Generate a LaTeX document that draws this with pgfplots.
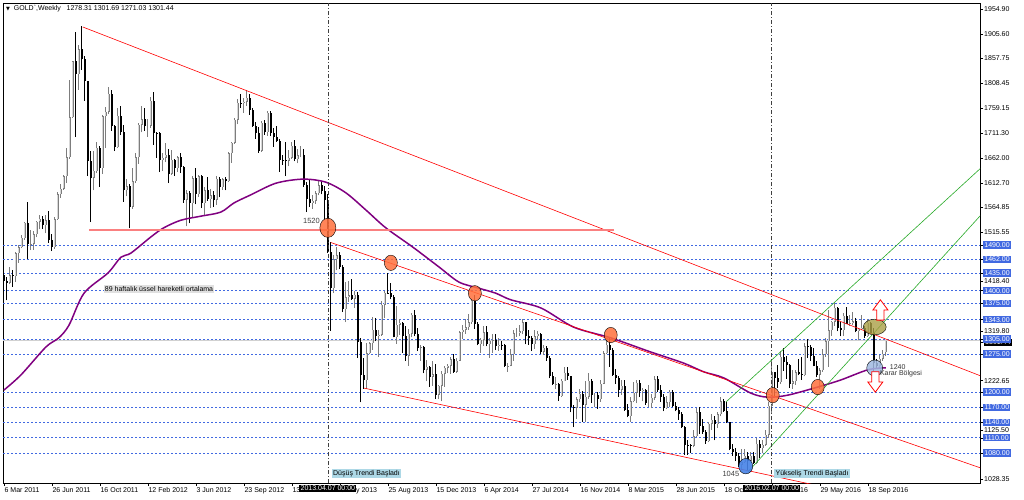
\documentclass[border=0pt]{standalone}
\usepackage{pgfplots}
\usepackage{pgfplotstable}
\pgfplotsset{compat=1.18}
\usepackage{fontspec}
\setmainfont{Liberation Sans}
\newfontfamily\dejavu{DejaVu Sans}
\setlength{\fboxsep}{1pt}
\definecolor{royal}{RGB}{65,105,225}
\definecolor{ema}{RGB}{128,0,128}
\definecolor{circ}{RGB}{255,112,60}
\definecolor{olivec}{RGB}{170,160,70}
\definecolor{lblue}{RGB}{160,185,225}
\definecolor{dblue}{RGB}{70,130,230}
\definecolor{boxblue}{RGB}{173,216,230}
\definecolor{salmonl}{RGB}{250,128,128}
\definecolor{greenl}{RGB}{40,170,40}
\definecolor{bullc}{RGB}{125,125,125}
\definecolor{bullin}{RGB}{215,215,215}

% weekly OHLC, bar index from 6 Mar 2011
\pgfplotstableread{
b o h l c
0 1430 1435 1392 1420
1 1420 1428 1381 1416
2 1416 1447 1414 1430
3 1430 1440 1408 1429
4 1429 1476 1418 1474
5 1474 1490 1455 1486
6 1486 1509 1484 1504
7 1504 1536 1500 1534
8 1534 1575 1462 1492
9 1492 1520 1480 1493
10 1493 1518 1481 1511
11 1511 1537 1505 1536
12 1536 1549 1521 1542
13 1542 1548 1522 1529
14 1529 1549 1513 1539
15 1539 1558 1495 1500
16 1500 1511 1478 1486
17 1486 1545 1483 1541
18 1541 1594 1540 1590
19 1590 1610 1583 1601
20 1601 1628 1599 1626
21 1626 1681 1612 1663
22 1663 1815 1660 1742
23 1742 1852 1741 1852
24 1852 1911 1703 1827
25 1827 1884 1796 1876
26 1876 1921 1835 1857
27 1857 1862 1775 1814
28 1814 1814 1626 1656
29 1656 1676 1535 1623
30 1623 1676 1598 1636
31 1636 1694 1633 1682
32 1682 1686 1605 1642
33 1642 1747 1631 1744
34 1744 1763 1681 1753
35 1753 1802 1748 1788
36 1788 1795 1715 1724
37 1724 1726 1675 1683
38 1683 1761 1682 1745
39 1745 1764 1707 1713
40 1713 1726 1575 1598
41 1598 1621 1586 1606
42 1606 1611 1523 1566
43 1566 1642 1562 1616
44 1616 1671 1612 1663
45 1663 1730 1650 1727
46 1727 1764 1712 1738
47 1738 1760 1715 1725
48 1725 1738 1704 1725
49 1725 1782 1721 1774
50 1774 1792 1688 1711
51 1711 1712 1662 1710
52 1710 1712 1634 1657
53 1657 1671 1636 1662
54 1662 1691 1653 1668
55 1668 1680 1612 1631
56 1631 1677 1628 1658
57 1658 1660 1627 1642
58 1642 1665 1634 1663
59 1663 1672 1632 1643
60 1643 1645 1573 1579
61 1579 1598 1527 1592
62 1592 1596 1533 1572
63 1572 1627 1545 1622
64 1622 1642 1570 1590
65 1590 1628 1585 1626
66 1626 1628 1563 1572
67 1572 1605 1547 1598
68 1598 1625 1577 1580
69 1580 1600 1564 1588
70 1588 1597 1565 1579
71 1579 1627 1569 1621
72 1621 1625 1584 1604
73 1604 1623 1599 1620
74 1620 1625 1598 1616
75 1616 1674 1614 1671
76 1671 1693 1652 1692
77 1692 1741 1690 1737
78 1737 1778 1728 1771
79 1771 1787 1761 1770
80 1770 1779 1751 1773
81 1773 1796 1765 1780
82 1780 1788 1747 1757
83 1757 1761 1723 1724
84 1724 1732 1700 1711
85 1711 1722 1672 1676
86 1676 1734 1674 1731
87 1731 1737 1708 1713
88 1713 1755 1706 1751
89 1751 1754 1705 1711
90 1711 1721 1684 1704
91 1704 1724 1694 1696
92 1696 1699 1635 1658
93 1658 1667 1648 1657
94 1657 1693 1626 1656
95 1656 1678 1645 1662
96 1662 1694 1660 1686
97 1686 1697 1655 1659
98 1659 1680 1651 1667
99 1667 1685 1663 1667
100 1667 1680 1604 1609
101 1609 1615 1555 1581
102 1581 1619 1565 1572
103 1572 1588 1562 1577
104 1577 1596 1571 1592
105 1592 1617 1588 1608
106 1608 1616 1590 1596
107 1596 1606 1539 1579
108 1579 1590 1475 1476
109 1476 1497 1321 1405
110 1405 1470 1395 1462
111 1462 1487 1440 1470
112 1470 1477 1442 1447
113 1447 1450 1358 1364
114 1364 1418 1338 1387
115 1387 1419 1378 1391
116 1391 1424 1382 1384
117 1384 1399 1366 1392
118 1392 1398 1268 1298
119 1298 1306 1180 1234
120 1234 1267 1207 1223
121 1223 1297 1206 1277
122 1277 1298 1275 1296
123 1296 1348 1284 1323
124 1323 1347 1300 1310
125 1310 1323 1270 1313
126 1313 1380 1311 1372
127 1372 1400 1346 1396
128 1396 1434 1394 1395
129 1395 1415 1383 1387
130 1387 1391 1308 1308
131 1308 1369 1295 1333
132 1333 1345 1313 1337
133 1337 1338 1277 1310
134 1310 1331 1262 1272
135 1272 1325 1252 1315
136 1315 1356 1308 1352
137 1352 1362 1310 1314
138 1314 1327 1281 1287
139 1287 1293 1262 1288
140 1288 1290 1237 1244
141 1244 1264 1221 1250
142 1250 1252 1211 1230
143 1230 1262 1213 1235
144 1235 1256 1186 1195
145 1195 1215 1186 1213
146 1213 1241 1182 1236
147 1236 1251 1211 1248
148 1248 1256 1237 1252
149 1252 1270 1236 1265
150 1265 1276 1238 1240
151 1240 1268 1238 1262
152 1262 1320 1262 1318
153 1318 1332 1305 1323
154 1323 1345 1315 1328
155 1328 1355 1323 1338
156 1338 1384 1335 1380
157 1380 1392 1325 1334
158 1334 1338 1292 1294
159 1294 1307 1277 1303
160 1303 1331 1291 1318
161 1318 1331 1290 1294
162 1294 1306 1268 1301
163 1301 1315 1278 1302
164 1302 1315 1283 1290
165 1290 1306 1282 1293
166 1293 1300 1284 1292
167 1292 1294 1250 1251
168 1251 1258 1240 1252
169 1252 1285 1251 1275
170 1275 1323 1262 1316
171 1316 1326 1309 1316
172 1316 1333 1310 1320
173 1320 1345 1314 1338
174 1338 1339 1294 1310
175 1310 1322 1293 1307
176 1307 1311 1281 1294
177 1294 1322 1285 1310
178 1310 1321 1302 1315
179 1315 1317 1275 1280
180 1280 1293 1273 1287
181 1287 1291 1262 1268
182 1268 1271 1227 1231
183 1231 1240 1214 1216
184 1216 1229 1206 1217
185 1217 1218 1183 1192
186 1192 1225 1190 1222
187 1222 1249 1221 1238
188 1238 1250 1224 1231
189 1231 1232 1160 1171
190 1171 1174 1131 1169
191 1169 1191 1147 1186
192 1186 1207 1180 1197
193 1197 1202 1142 1175
194 1175 1222 1142 1191
195 1191 1238 1187 1222
196 1222 1225 1179 1195
197 1195 1198 1170 1195
198 1195 1200 1167 1186
199 1186 1224 1181 1217
200 1217 1281 1216 1277
201 1277 1307 1276 1293
202 1293 1306 1250 1283
203 1283 1287 1232 1234
204 1234 1245 1216 1227
205 1227 1232 1191 1205
206 1205 1223 1195 1212
207 1212 1224 1163 1165
208 1165 1176 1150 1152
209 1152 1190 1142 1182
210 1182 1219 1180 1199
211 1199 1224 1178 1218
212 1218 1224 1190 1203
213 1203 1209 1182 1205
214 1205 1207 1175 1178
215 1178 1215 1171 1178
216 1178 1196 1168 1189
217 1189 1232 1184 1225
218 1225 1232 1200 1204
219 1204 1214 1181 1190
220 1190 1196 1162 1168
221 1168 1193 1167 1180
222 1180 1205 1171 1201
223 1201 1204 1170 1173
224 1173 1180 1162 1164
225 1164 1170 1146 1157
226 1157 1160 1130 1131
227 1131 1133 1077 1096
228 1096 1105 1077 1095
229 1095 1097 1080 1094
230 1094 1126 1091 1113
231 1113 1168 1112 1160
232 1160 1170 1118 1134
233 1134 1147 1118 1121
234 1121 1125 1098 1103
235 1103 1141 1101 1138
236 1138 1157 1125 1146
237 1146 1152 1105 1137
238 1137 1160 1130 1156
239 1156 1191 1152 1182
240 1182 1186 1161 1163
241 1163 1180 1139 1141
242 1141 1142 1085 1088
243 1088 1097 1075 1081
244 1081 1089 1064 1075
245 1075 1079 1052 1057
246 1057 1088 1046 1062
247 1062 1088 1061 1075
248 1075 1082 1047 1065
249 1065 1081 1064 1075
250 1075 1082 1058 1060
251 1060 1109 1058 1098
252 1098 1105 1071 1089
253 1089 1105 1079 1096
254 1096 1126 1094 1116
255 1116 1180 1110 1173
256 1173 1263 1158 1239
257 1239 1239 1192 1227
258 1227 1253 1209 1220
259 1220 1281 1216 1270
260 1270 1287 1242 1259
261 1259 1271 1226 1254
262 1254 1256 1208 1217
263 1217 1243 1207 1221
264 1221 1244 1215 1239
265 1239 1266 1233 1235
266 1235 1270 1224 1233
267 1233 1296 1231 1290
268 1290 1304 1267 1289
269 1289 1292 1262 1272
270 1272 1287 1251 1252
271 1252 1262 1229 1234
272 1234 1248 1207 1243
273 1243 1285 1240 1275
274 1275 1307 1270 1300
275 1300 1362 1250 1322
276 1322 1340 1311 1339
277 1339 1375 1331 1366
278 1366 1368 1320 1327
279 1327 1338 1310 1322
280 1322 1357 1311 1351
281 1351 1367 1335 1335
282 1335 1352 1330 1336
283 1336 1358 1332 1340
284 1340 1347 1318 1320
285 1320 1327 1302 1325
286 1325 1352 1322 1327
287 1327 1331 1307 1310
288 1310 1344 1309 1337
289 1337 1339 1314 1316
290 1316 1326 1241 1257
291 1257 1266 1248 1252
292 1252 1273 1248 1266
293 1266 1284 1262 1276
294 1278.31 1301.69 1271.03 1301.44
}\gold

\begin{document}
\begin{tikzpicture}[font=\fontsize{7}{8.5}\selectfont]
\path[fill=white, use as bounding box] (0,0) rectangle (1024pt,499pt);
\begin{axis}[
  at={(3pt,16pt)}, anchor=south west,
  scale only axis, width=977pt, height=480pt,
  xmin=-0.3, xmax=325.4, ymin=1020.8, ymax=1967.3,
  clip mode=individual, unbounded coords=discard,
  axis line style={black, line width=0.6pt},
  tick align=outside, major tick length=3pt,
  tick style={black, line width=0.5pt},
  xtick pos=left, ytick pos=right, yticklabel pos=right,
  xtick={0,16,...,288},
  xticklabels={6 Mar 2011,26 Jun 2011,16 Oct 2011,12 Feb 2012,3 Jun 2012,23 Sep 2012,13 Jan 2013,5 May 2013,25 Aug 2013,15 Dec 2013,6 Apr 2014,27 Jul 2014,16 Nov 2014,8 Mar 2015,28 Jun 2015,18 Oct 2015,7 Feb 2016,29 May 2016,18 Sep 2016},
  xticklabel style={anchor=north west, inner sep=1pt, xshift=-0.5pt},
  ytick={1028.35,1125.50,1222.65,1298.5,1319.80,1418.40,1515.55,1564.85,1612.70,1662.00,1711.30,1759.15,1808.45,1857.75,1905.60,1954.90},
  yticklabels={1028.35,1125.50,1222.65,{\colorbox{black}{\textcolor{white}{1301.44}}},1319.80,1418.40,1515.55,1564.85,1612.70,1662.00,1711.30,1759.15,1808.45,1857.75,1905.60,1954.90},
  yticklabel style={anchor=west, inner sep=1pt},
  extra y ticks={1490,1462,1435,1400,1375,1343,1305,1275,1200,1170,1140,1110,1080},
  extra y tick labels={1490.00,1462.00,1435.00,1400.00,1375.00,1343.00,1305.00,1275.00,1200.00,1170.00,1140.00,1110.00,1080.00},
  extra y tick style={grid=major,
    major grid style={royal, dash pattern=on 2pt off 2pt, line width=0.6pt},
    yticklabel style={fill=royal, text=white, inner sep=1.2pt}},
]
% current price line
\addplot[black!18, line width=1.6pt, forget plot] coordinates {(-0.3,1301.44) (325.4,1301.44)};

% wicks
\addplot[draw=none, forget plot, error bars/.cd, y dir=plus, y explicit, error mark=none,
  error bar style={draw=bullc, line width=0.9pt, solid}]
  table[x=b, y expr={\thisrow{c}>=\thisrow{o} ? \thisrow{l} : nan}, y error plus expr={\thisrow{h}-\thisrow{l}}] {\gold};
\addplot[draw=none, forget plot, error bars/.cd, y dir=plus, y explicit, error mark=none,
  error bar style={draw=black, line width=0.9pt, solid}]
  table[x=b, y expr={\thisrow{c}<\thisrow{o} ? \thisrow{l} : nan}, y error plus expr={\thisrow{h}-\thisrow{l}}] {\gold};
% bodies
\addplot[draw=none, forget plot, error bars/.cd, y dir=plus, y explicit, error mark=none,
  error bar style={draw=bullc, line width=2.6pt, solid}]
  table[x=b, y expr={\thisrow{c}>=\thisrow{o} ? \thisrow{o} : nan}, y error plus expr={\thisrow{c}-\thisrow{o}}] {\gold};
\addplot[draw=none, forget plot, error bars/.cd, y dir=plus, y explicit, error mark=none,
  error bar style={draw=bullin, line width=0.9pt, solid}]
  table[x=b, y expr={\thisrow{c}>=\thisrow{o}+2 ? \thisrow{o}+0.9 : nan}, y error plus expr={\thisrow{c}-\thisrow{o}-1.8}] {\gold};
\addplot[draw=none, forget plot, error bars/.cd, y dir=plus, y explicit, error mark=none,
  error bar style={draw=black, line width=2.6pt, solid}]
  table[x=b, y expr={\thisrow{c}<\thisrow{o} ? \thisrow{c} : nan}, y error plus expr={\thisrow{o}-\thisrow{c}}] {\gold};

% 89-week EMA
\addplot[ema, line width=1.5pt, smooth, forget plot] coordinates {
(0,1204) (5.7,1234) (14,1289) (18.3,1307) (21.7,1332) (26.7,1395) (34.7,1435) (39,1466)
(42.3,1474) (49,1506) (53.3,1524) (59,1539) (65.7,1547) (72.3,1555) (76.7,1573) (82.3,1589)
(90.7,1612) (99.7,1620) (107.3,1614) (114,1593) (120.7,1559) (127.3,1524) (136.3,1486)
(145,1447) (151.7,1417) (158.3,1405) (164,1395) (169,1382) (179,1366) (190,1328)
(202.3,1307) (215.7,1279) (226.7,1257) (233.3,1240) (240,1228) (249,1198) (254.7,1190)
(261.3,1194) (271.3,1210) (279,1224) (288,1244) (294,1248)};

% trend lines
\addplot[red, line width=0.6pt, forget plot] coordinates {(26.3,1920) (325.7,1231.8)};
\addplot[red, line width=0.6pt, forget plot] coordinates {(109,1495) (325.7,1050.3)};
\addplot[red, line width=0.6pt, forget plot] coordinates {(120,1208) (280,1004.5)};
\addplot[salmonl, line width=1.4pt, forget plot] coordinates {(28.3,1520) (203.3,1520)};
\addplot[greenl, line width=0.6pt, forget plot] coordinates {(240.7,1180.5) (325.7,1642)};
\addplot[greenl, line width=0.6pt, forget plot] coordinates {(248,1042.5) (325.7,1549.3)};

% vertical markers
\addplot[black!75, line width=0.7pt, dash pattern=on 4pt off 2pt on 1pt off 2pt, forget plot] coordinates {(108,1020.8) (108,1967.3)};
\addplot[black!75, line width=0.7pt, dash pattern=on 4pt off 2pt on 1pt off 2pt, forget plot] coordinates {(256,1020.8) (256,1967.3)};

% highlight circles
\addplot[only marks, mark=*, mark size=8pt, mark options={draw=none, fill=circ, fill opacity=0.85, yscale=1.2}, forget plot] coordinates {(108,1524)};
\addplot[only marks, mark=*, mark size=6.5pt, mark options={draw=none, fill=circ, fill opacity=0.85, yscale=1.18}, forget plot] coordinates {(129,1455) (157,1395) (202.3,1312.6) (256.3,1194) (271.3,1210)};
\addplot[only marks, mark=*, mark size=11.5pt, mark options={draw=none, fill=olivec, fill opacity=0.8, yscale=0.68}, forget plot] coordinates {(290.3,1328.4)};
\addplot[only marks, mark=*, mark size=8pt, mark options={draw=none, fill=lblue, fill opacity=0.85}, forget plot] coordinates {(290.3,1247.6)};
\addplot[only marks, mark=*, mark size=7pt, mark options={draw=none, fill=dblue, fill opacity=0.9, yscale=1.1}, forget plot] coordinates {(247.3,1054)};

% arrows
\draw[red, fill=white, line width=0.8pt] (axis cs:292.2,1382) -- (axis cs:294.7,1362) -- (axis cs:293.4,1362) -- (axis cs:293.4,1342) -- (axis cs:291.0,1342) -- (axis cs:291.0,1362) -- (axis cs:289.7,1362) -- cycle;
\draw[red, fill=white, line width=0.8pt] (axis cs:290.5,1200) -- (axis cs:293.0,1220) -- (axis cs:291.7,1220) -- (axis cs:291.7,1240) -- (axis cs:289.3,1240) -- (axis cs:289.3,1220) -- (axis cs:288.0,1220) -- cycle;

% annotations
\node[anchor=east, text=black!75, font=\fontsize{7.5}{9}\selectfont] at (axis cs:106.5,1537) {1520};
\node[anchor=east, text=black!75, font=\fontsize{7.5}{9}\selectfont] at (axis cs:246.3,1038.5) {1045};
\node[anchor=west, text=black!80, inner sep=0pt] at (axis cs:295.3,1250) {1240};
\node[anchor=west, text=black!80, inner sep=0pt] at (axis cs:292,1236) {Karar Bölgesi};
\node[anchor=west, fill=black!12, inner sep=1pt] at (axis cs:33.3,1403.3) {89 haftalık üssel hareketli ortalama};
\node[anchor=west, fill=boxblue, inner sep=1.5pt] at (axis cs:109.2,1039.5) {Düşüş Trendi Başladı};
\node[anchor=west, fill=boxblue, inner sep=1.5pt] at (axis cs:256.7,1039.5) {Yükseliş Trendi Başladı};
\coordinate (v1) at (axis cs:108,1020.8);
\coordinate (v2) at (axis cs:256,1020.8);
\end{axis}
\node[anchor=north, fill=black, text=white, inner sep=1.2pt, yshift=-1.5pt] at (v1) {2013.04.07 00:00};
\node[anchor=north, fill=black, text=white, inner sep=1.2pt, yshift=-1.5pt] at (v2) {2016.02.07 00:00};
\node[anchor=west, inner sep=0pt] at (6pt,490pt) {{\dejavu\fontsize{5}{6}\selectfont ▼}\ \ GOLD\textasciigrave,Weekly\ \ \ 1278.31 1301.69 1271.03 1301.44};
\end{tikzpicture}
\end{document}
